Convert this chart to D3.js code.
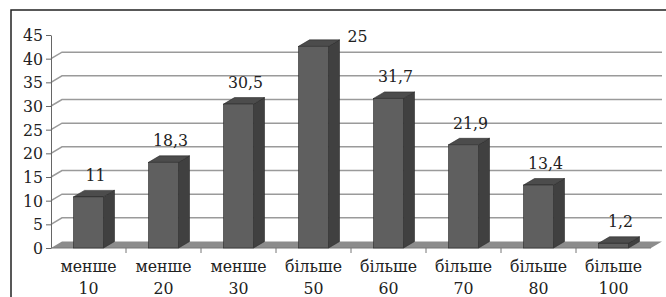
<!DOCTYPE html>
<html>
  <head>
    <script src="https://d3js.org/d3.v7.min.js"></script>
    <style>
      body { margin: 0; background: #fff; }
    </style>
  </head>
  <body>
    <div id="chart"></div>
    <script>
      const categories = ["менше|10", "менше|20", "менше|30", "більше|50", "більше|60", "більше|70", "більше|80", "більше|100"];
      const values = [10.8, 18.1, 30.4, 42.6, 31.6, 21.8, 13.3, 1.0];
      const valueLabels = ["11", "18,3", "30,5", "25", "31,7", "21,9", "13,4", "1,2"];
      const yTicks = [0, 5, 10, 15, 20, 25, 30, 35, 40, 45];

      const width = 666;
      const height = 297;
      const depthX = 11;
      const depthY = -6.5;
      const fontFamily = "'DejaVu Serif Condensed', 'DejaVu Serif'";
      const fontSize = "17.5px";

      const svg = d3
        .select("#chart")
        .append("svg")
        .attr("width", width)
        .attr("height", height);

      // frame, only its top and left edges show
      svg.append("path")
        .attr("d", "M11,297V10H666")
        .attr("fill", "none")
        .attr("stroke", "#222")
        .attr("stroke-width", 1.5);

      const x = d3.scaleBand()
        .domain(categories)
        .range([51, 651])
        .paddingInner(0.6)
        .paddingOuter(0.3);

      const y = d3.scaleLinear().domain([0, 45]).range([248, 35]);

      const x0 = x.range()[0];
      const x1 = x.range()[1];
      const y0 = y(0);

      // floor
      svg.append("polygon")
        .attr("points", [[x0, y0], [x1, y0], [x1 + depthX, y0 + depthY], [x0 + depthX, y0 + depthY]].join(" "))
        .attr("fill", "#8c8c8c");

      // wall gridlines
      svg.append("g")
        .selectAll("polyline")
        .data(yTicks.filter((d) => d > 0 && d < 45))
        .enter()
        .append("polyline")
        .attr("points", (d) => [[x0, y(d)], [x0 + depthX, y(d) + depthY], [x1 + depthX, y(d) + depthY]].join(" "))
        .attr("fill", "none")
        .attr("stroke", "#9a9a9a")
        .attr("stroke-width", 1.5);

      const yAxis = svg.append("g")
        .attr("transform", `translate(${x0},0)`)
        .call(d3.axisLeft(y).tickValues(yTicks).tickSize(5).tickSizeOuter(0).tickPadding(3));
      yAxis.attr("font-family", null).attr("font-size", null);
      yAxis.selectAll("text")
        .style("font-family", fontFamily)
        .style("font-size", fontSize)
        .attr("fill", "#222");
      yAxis.selectAll("line").attr("stroke", "#666");
      yAxis.select(".domain").attr("stroke", "#666");

      svg.append("line")
        .attr("x1", x0).attr("x2", x1)
        .attr("y1", y0).attr("y2", y0)
        .attr("stroke", "#777");
      svg.append("g")
        .selectAll("line")
        .data(categories.slice(1))
        .enter()
        .append("line")
        .attr("x1", (d) => x(d) - x.step() * x.paddingInner() / 2)
        .attr("x2", (d) => x(d) - x.step() * x.paddingInner() / 2)
        .attr("y1", y0)
        .attr("y2", y0 + 5)
        .attr("stroke", "#777");

      // 3d bars: side, top, front
      const bw = x.bandwidth();
      const bars = svg.append("g")
        .selectAll("g")
        .data(categories.map((c, i) => ({ c, v: values[i], label: valueLabels[i] })))
        .enter()
        .append("g");

      bars.append("polygon")
        .attr("points", (d) => {
          const l = x(d.c) + bw, t = y(d.v);
          return [[l, y0], [l + depthX, y0 + depthY], [l + depthX, t + depthY], [l, t]].join(" ");
        })
        .attr("fill", "#404040")
        .attr("stroke", "#2a2a2a")
        .attr("stroke-width", 0.6);

      bars.append("polygon")
        .attr("points", (d) => {
          const l = x(d.c), t = y(d.v);
          return [[l, t], [l + bw, t], [l + bw + depthX, t + depthY], [l + depthX, t + depthY]].join(" ");
        })
        .attr("fill", "#4c4c4c")
        .attr("stroke", "#2a2a2a")
        .attr("stroke-width", 0.6);

      bars.append("rect")
        .attr("x", (d) => x(d.c))
        .attr("y", (d) => y(d.v))
        .attr("width", bw)
        .attr("height", (d) => y0 - y(d.v))
        .attr("fill", "#5f5f5f")
        .attr("stroke", "#2a2a2a")
        .attr("stroke-width", 0.6);

      bars.append("text")
        .attr("x", (d) => (d.v > 40 ? x(d.c) + bw + depthX + 8 : x(d.c) + bw / 2 + 7))
        .attr("y", (d) => (d.v > 40 ? y(d.v) - 4 : y(d.v) - 16))
        .attr("text-anchor", (d) => (d.v > 40 ? "start" : "middle"))
        .attr("fill", "#222")
        .style("font-family", fontFamily)
        .style("font-size", fontSize)
        .text((d) => d.label);

      const cats = svg.append("g")
        .selectAll("text")
        .data(categories)
        .enter()
        .append("text")
        .attr("text-anchor", "middle")
        .attr("fill", "#222")
        .style("font-family", fontFamily)
        .style("font-size", fontSize);
      cats.append("tspan")
        .attr("x", (d) => x(d) + bw / 2)
        .attr("y", 272)
        .text((d) => d.split("|")[0]);
      cats.append("tspan")
        .attr("x", (d) => x(d) + bw / 2)
        .attr("y", 294)
        .text((d) => d.split("|")[1]);
    </script>
  </body>
</html>
